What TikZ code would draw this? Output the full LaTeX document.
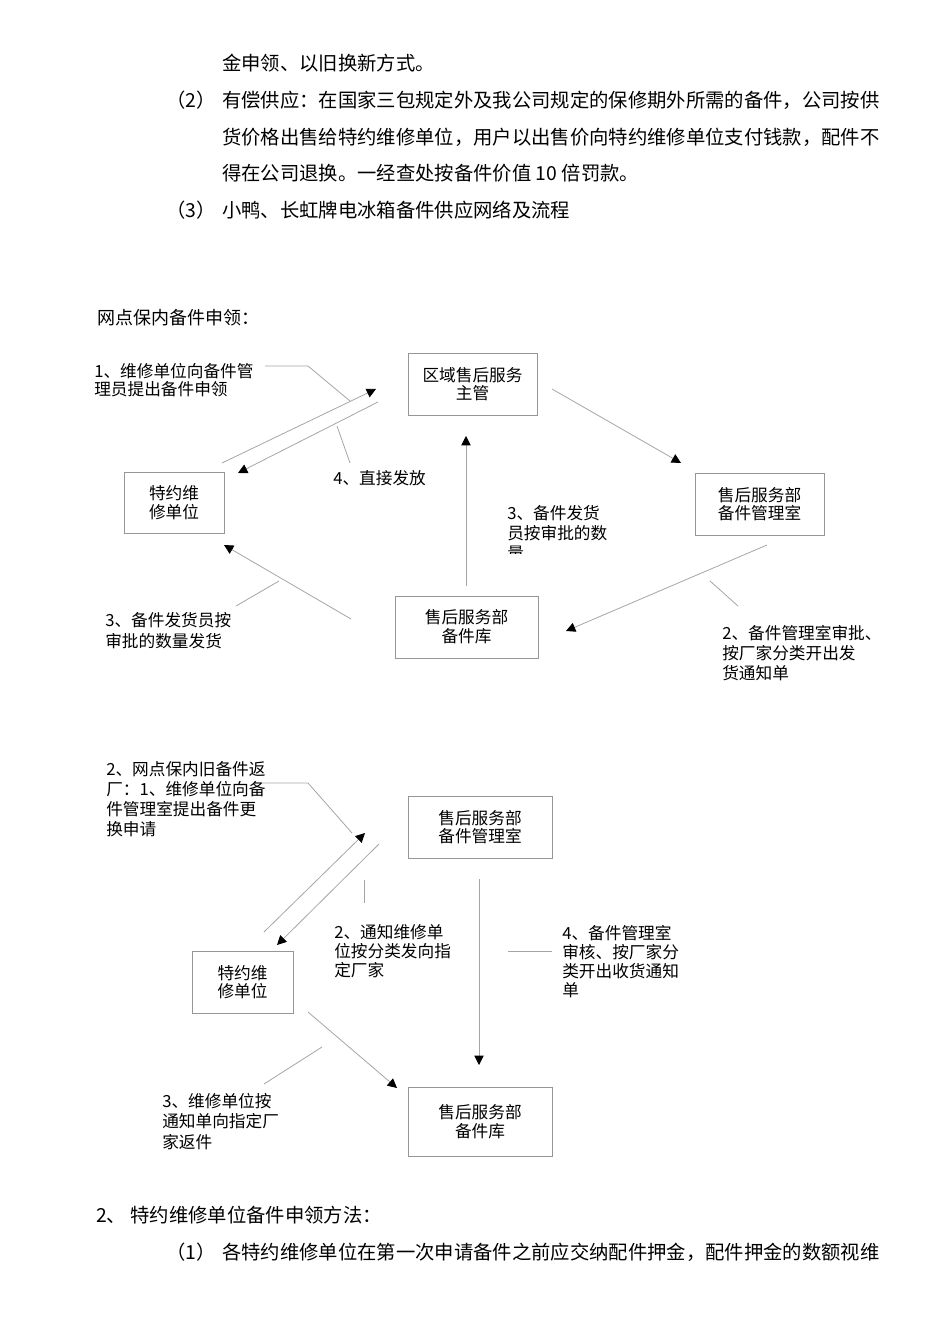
\documentclass[tikz,border=0pt]{standalone}
\usepackage{fontspec}
\setmainfont{Noto Sans CJK SC}
\usetikzlibrary{arrows.meta}
\definecolor{lineGray}{RGB}{165,165,165}
\definecolor{boxGray}{RGB}{150,150,150}
\begin{document}
\begin{tikzpicture}[x=0.75pt,y=-0.75pt]
	\tikzstyle{Box} = [draw=boxGray, line width=0.6pt, align=center, inner sep=0pt, font=\fontsize{12.5}{14}\selectfont]
	\tikzstyle{Note} = [anchor=north west, align=left, inner sep=0pt, font=\fontsize{12.5}{14.5}\selectfont]
	\tikzstyle{Body} = [anchor=west, inner sep=0pt, font=\fontsize{14.5}{18}\selectfont]
	\tikzstyle{Line} = [draw=lineGray, line width=0.6pt]
	\tikzstyle{Arrow} = [Line, -{Triangle[length=7pt,width=7pt,color=black]}]
	\useasboundingbox (0,0) rectangle (950,1344);
	% text above
	\node (t1) at (222,63) [Body] {金申领、以旧换新方式。};
	\node (t2n) at (166,100) [Body] {（2）};
	\node (t2) at (222,100) [Body] {有偿供应：在国家三包规定外及我公司规定的保修期外所需的备件，公司按供};
	\node (t3) at (222,137) [Body] {货价格出售给特约维修单位，用户以出售价向特约维修单位支付钱款，配件不};
	\node (t4) at (222,173) [Body] {得在公司退换。一经查处按备件价值 10 倍罚款。};
	\node (t5n) at (166,210) [Body] {（3）};
	\node (t5) at (222,210) [Body] {小鸭、长虹牌电冰箱备件供应网络及流程};
	\node (title) at (97,318) [Body, font=\fontsize{13.5}{16}\selectfont] {网点保内备件申领：};
	% first chart
	\node (zg) at (472.5,384) [Box, minimum width=96.75pt, minimum height=46.5pt] {区域售后服务\\主管};
	\node (ty1) at (174,502.5) [Box, minimum width=75pt, minimum height=45.75pt] {特约维\\修单位};
	\node (gl1) at (759.5,504) [Box, minimum width=96.75pt, minimum height=46.5pt] {售后服务部\\备件管理室};
	\node (kf1) at (466.5,627) [Box, minimum width=107.25pt, minimum height=46.5pt] {售后服务部\\备件库};
	\coordinate (a1) at (222,463); \coordinate (b1) at (376,389);
	\coordinate (a2) at (378,402); \coordinate (b2) at (238,473);
	\coordinate (a3) at (552,389); \coordinate (b3) at (681,463);
	\coordinate (a4) at (767,545); \coordinate (b4) at (566,631);
	\coordinate (a5) at (466,586); \coordinate (b5) at (466,436);
	\coordinate (a6) at (351,619); \coordinate (b6) at (224,545);
	\draw [Arrow] (a1) to (b1);
	\draw [Arrow] (a2) to (b2);
	\draw [Arrow] (a3) to (b3);
	\draw [Arrow] (a4) to (b4);
	\draw [Arrow] (a5) to (b5);
	\draw [Arrow] (a6) to (b6);
	\node (n1) at (94,363) [Note, font=\fontsize{12.5}{13.5}\selectfont] {1、维修单位向备件管\\理员提出备件申领};
	\node (n4) at (333,470) [Note] {4、直接发放};
	\begin{scope}
		\clip (500,495) rectangle (625,553);
		\node (n3) at (507,505) [Note, font=\fontsize{12.5}{15}\selectfont] {3、备件发货\\员按审批的数\\量};
	\end{scope}
	\node (n2) at (722,625) [Note, font=\fontsize{12.5}{15}\selectfont] {2、备件管理室审批、\\按厂家分类开出发\\货通知单};
	\node (n3b) at (105,612) [Note, font=\fontsize{12.5}{16}\selectfont] {3、备件发货员按\\审批的数量发货};
	\coordinate (p1) at (265,366); \coordinate (q1) at (308,366); \coordinate (r1) at (350,401);
	\coordinate (p4) at (337,426); \coordinate (q4) at (350,463);
	\coordinate (p2) at (710,581); \coordinate (q2) at (738,606);
	\coordinate (p3) at (236,606); \coordinate (q3) at (279,581);
	\draw [Line] (p1) -- (q1) -- (r1);
	\draw [Line] (p4) -- (q4);
	\draw [Line] (p2) -- (q2);
	\draw [Line] (p3) -- (q3);
	% second chart
	\node (gl2) at (480,827) [Box, minimum width=108pt, minimum height=46.5pt] {售后服务部\\备件管理室};
	\node (ty2) at (242.5,982) [Box, minimum width=75.75pt, minimum height=46.5pt] {特约维\\修单位};
	\node (kf2) at (480,1121.5) [Box, minimum width=108pt, minimum height=51.75pt] {售后服务部\\备件库};
	\coordinate (c1) at (264,932); \coordinate (d1) at (365,833);
	\coordinate (c2) at (379,844); \coordinate (d2) at (277,945);
	\coordinate (c3) at (479,879); \coordinate (d3) at (479,1065);
	\coordinate (c4) at (308,1012); \coordinate (d4) at (397,1088);
	\draw [Arrow] (c1) to (d1);
	\draw [Arrow] (c2) to (d2);
	\draw [Arrow] (c3) to (d3);
	\draw [Arrow] (c4) to (d4);
	\node (m1) at (106,761) [Note, font=\fontsize{12.5}{15}\selectfont] {2、网点保内旧备件返\\厂：1、维修单位向备\\件管理室提出备件更\\换申请};
	\node (m2) at (334,924) [Note, font=\fontsize{12.5}{14.5}\selectfont] {2、通知维修单\\位按分类发向指\\定厂家};
	\node (m4) at (562,925) [Note, font=\fontsize{12.5}{14.2}\selectfont] {4、备件管理室\\审核、按厂家分\\类开出收货通知\\单};
	\node (m3) at (162,1093) [Note, font=\fontsize{12.5}{15.3}\selectfont] {3、维修单位按\\通知单向指定厂\\家返件};
	\coordinate (u1) at (262,783); \coordinate (v1) at (308,783); \coordinate (w1) at (352,833);
	\coordinate (u2) at (364,880); \coordinate (v2) at (364,903);
	\coordinate (u4) at (508,951); \coordinate (v4) at (552,951);
	\coordinate (u3) at (264,1084); \coordinate (v3) at (322,1047);
	\draw [Line] (u1) -- (v1) -- (w1);
	\draw [Line] (u2) -- (v2);
	\draw [Line] (u4) -- (v4);
	\draw [Line] (u3) -- (v3);
	% text below
	\node (s2) at (96,1215) [Body] {2、 特约维修单位备件申领方法：};
	\node (s3n) at (166,1252) [Body] {（1）};
	\node (s3) at (222,1252) [Body] {各特约维修单位在第一次申请备件之前应交纳配件押金，配件押金的数额视维};
\end{tikzpicture}
\end{document}
